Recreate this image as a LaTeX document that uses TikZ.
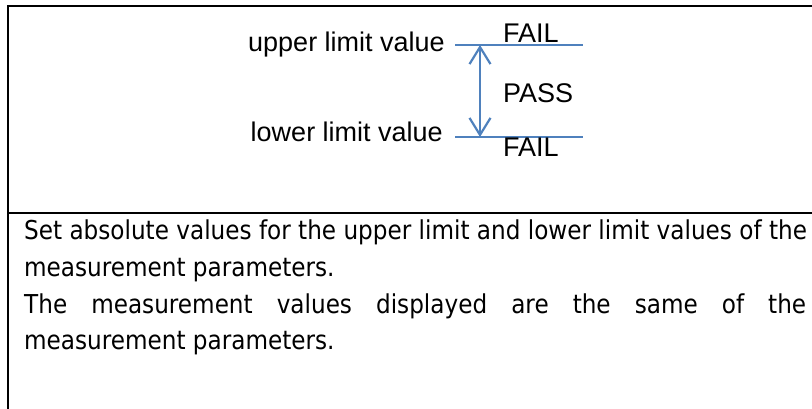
\documentclass[tikz,border=0pt]{standalone}
\usepackage{fontspec}
\setmainfont{Liberation Sans}
\newfontfamily\notefont[FakeStretch=0.89]{DejaVu Sans}
\usetikzlibrary{arrows.meta}
\definecolor{limitblue}{RGB}{79,129,189}
\begin{document}
\begin{tikzpicture}[x=1pt,y=-1pt,
	boxline/.style={draw=black, line width=2pt},
	limit/.style={draw=limitblue, line width=2.2pt},
	passrange/.style={draw=limitblue, line width=2.2pt,
		{Straight Barb[length=17pt,width=21pt]}-{Straight Barb[length=17pt,width=21pt]}},
	tag/.style={inner sep=0pt, font=\fontsize{27}{30}\selectfont},
	note/.style={inner sep=0pt, anchor=base west, font=\notefont\fontsize{26}{30}\selectfont}
	]
	\useasboundingbox (0,0) rectangle (812,409);
	% frame
	\draw[boxline] (8,409) -- (8,6) -- (812,6);
	\draw[boxline] (8,213) -- (812,213);
	% limits
	\coordinate (upW) at (455,45);
	\coordinate (upE) at (583,45);
	\coordinate (loW) at (455,137);
	\coordinate (loE) at (583,137);
	\coordinate (upA) at (480,45);
	\coordinate (loA) at (480,137);
	\draw[limit] (upW) -- (upE);
	\draw[limit] (loW) -- (loE);
	\draw[passrange] (upA) -- (loA);
	\node[tag, anchor=base east] (upper) at (445,52) {upper limit value};
	\node[tag, anchor=base east] (lower) at (443,142) {lower limit value};
	\node[tag, anchor=base west] (failup) at (503,43) {FAIL};
	\node[tag, anchor=base west] (pass) at (503,103) {PASS};
	\node[tag, anchor=base west] (faillo) at (503,157) {FAIL};
	% description
	\node[note] (line1) at (24,240) {Set absolute values for the upper limit and lower limit values of the};
	\node[note] (line2) at (24,276.5) {measurement parameters.};
	\node[note] (line3) at (24,313) {\makebox[782pt][s]{The measurement values displayed are the same of the}};
	\node[note] (line4) at (24,349.5) {measurement parameters.};
\end{tikzpicture}
\end{document}
